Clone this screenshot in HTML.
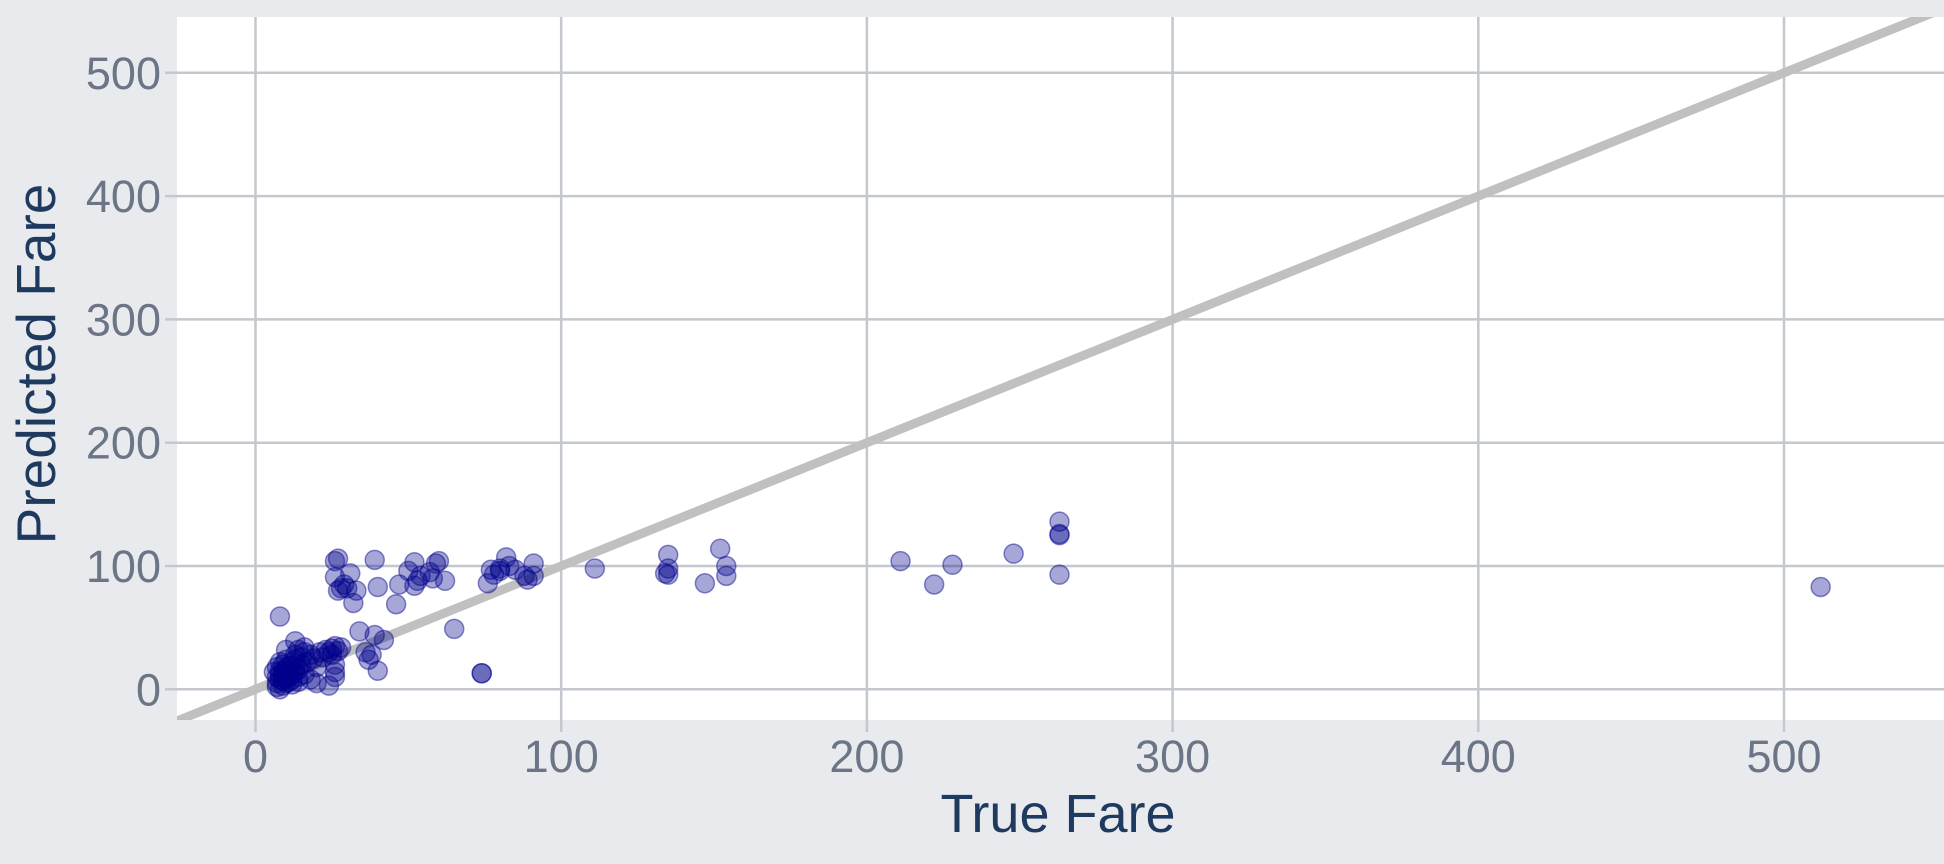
<!DOCTYPE html>
<html><head><meta charset="utf-8"><style>
html,body{margin:0;padding:0;background:#e8eaee;}
svg{display:block;}
</style></head><body>
<svg id="chart" width="1944" height="864" xmlns="http://www.w3.org/2000/svg">
<rect x="0" y="0" width="1944" height="864" fill="#e8eaee"/>
<rect x="177" y="17" width="1767" height="703" fill="#ffffff"/>
<g id="grid"></g>
<g id="clipg"></g>
<g id="points"></g>
<g id="ticks"></g>
<text x="1058" y="832" text-anchor="middle" font-family="Liberation Sans, sans-serif" font-size="54" fill="#1f3a5f">True Fare</text>
<text transform="translate(55,364) rotate(-90)" text-anchor="middle" font-family="Liberation Sans, sans-serif" font-size="55" fill="#1f3a5f">Predicted Fare</text>
</svg>
<script>
const xTicks=[0,100,200,300,400,500];
const yTicks=[0,100,200,300,400,500];
const trueFare=[26,27,26,27,28,29,30,31,32,33,39,40,46,47,50,52,52,53,54,57,58,59,60,62,76,77,78,80,80,82,83,85,88,89,91,91,
111,134,135,135,135,147,152,154,154,211,222,228,248,263,263,263,263,512,
74,74,65,34,36,37,38,39,40,42,8,13,10,
7,7,8,7,8,8,7,9,9,9,9,9,10,10,10,10,10,11,11,11,11,12,12,12,13,13,13,14,14,14,15,15,16,16,17,18,19,20,21,22,23,24,24,25,26,26,26,26,27,28,8,8,12,6,16,14,20,18,25,13];
const predFare=[104,106,91,80,82,85,82,94,70,80,105,83,69,85,96,103,84,88,92,95,90,102,104,88,86,97,93,96,98,107,100,97,92,89,102,92,
98,94,109,98,93,86,114,100,92,104,85,101,110,136,126,125,93,83,
13,13,49,47,30,24,28,44,15,40,59,39,32,
2,5,8,10,12,15,18,3,7,11,14,20,5,9,13,17,24,6,10,15,19,8,12,22,14,18,28,6,10,16,20,26,12,30,22,8,25,18,30,26,32,30,3,28,35,20,14,10,31,34,0,22,4,14,34,32,5,28,33,24];
const L=177,R=1944,T=17,B=720;
const X0=255.5,XS=3.057,Y0=689.3,YS=1.233;
const sx=v=>X0+v*XS, sy=v=>Y0-v*YS;
const NS='http://www.w3.org/2000/svg';
function mk(tag,attrs,parent){const e=document.createElementNS(NS,tag);for(const k in attrs)e.setAttribute(k,attrs[k]);parent.appendChild(e);return e;}
const grid=document.getElementById('grid'),ticks=document.getElementById('ticks');
xTicks.forEach(t=>{
  const l=mk('line',{x1:sx(t),x2:sx(t),y1:T,y2:B+12,stroke:'#c3c7ce','stroke-width':2.5},grid);
  
  
  const tx=mk('text',{x:sx(t),y:772,'text-anchor':'middle','font-family':'Liberation Sans, sans-serif','font-size':45,fill:'#6b7585'},ticks);
  tx.textContent=t;
  
  
});
yTicks.forEach(t=>{
  const l=mk('line',{x1:L-12,x2:R,y1:sy(t),y2:sy(t),stroke:'#c3c7ce','stroke-width':2.5},grid);
  
  
  const tx=mk('text',{x:161,y:sy(t)+16,'text-anchor':'end','font-family':'Liberation Sans, sans-serif','font-size':45,fill:'#6b7585'},ticks);
  tx.textContent=t;
  
  
});
const cg=document.getElementById('clipg');
const defs=mk('defs',{},cg);
const cp=mk('clipPath',{id:'pc'},defs);
mk('rect',{x:L,y:T,width:R-L,height:B-T},cp);
const diag=mk('line',{x1:sx(-30),y1:sy(-30),x2:sx(560),y2:sy(560),stroke:'#c0c0c0','stroke-width':9,'clip-path':'url(#pc)'},cg);


const pts=document.getElementById('points');
trueFare.forEach((v,i)=>{
  const c=mk('circle',{cx:sx(v),cy:sy(predFare[i]),r:9.5,fill:'rgba(0,0,139,0.35)',stroke:'rgba(0,0,139,0.45)','stroke-width':1.5},pts);
  
  
});
</script>
</body></html>
